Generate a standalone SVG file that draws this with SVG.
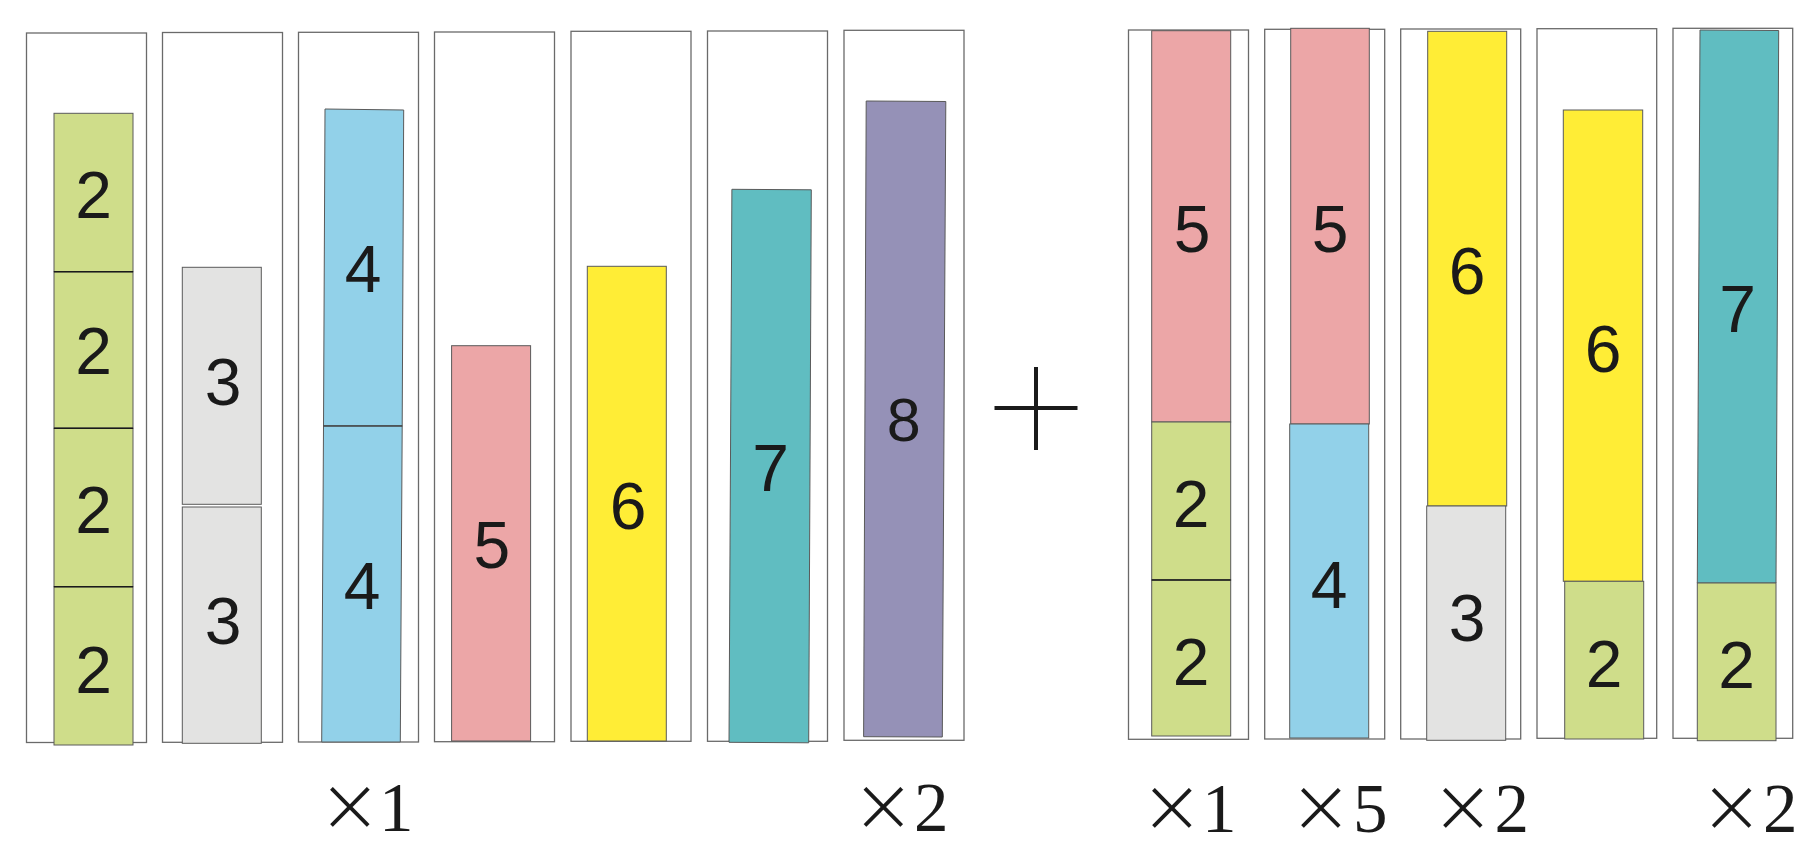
<svg xmlns="http://www.w3.org/2000/svg" width="1820" height="847" viewBox="0 0 1820 847">
<style>
.box{fill:#fff;stroke:#6a6a6a;stroke-width:1.3}
.bar{stroke:#5a5a5a;stroke-width:1}
.g{fill:#cfdd8a}.gr{fill:#e3e3e2}.b{fill:#92d1e9}.p{fill:#eca6a7}.y{fill:#ffed36}.t{fill:#60bdc1}.v{fill:#9591b7}
.div{stroke:#1a1a1a;stroke-width:1.6}
.n{font-family:"Liberation Sans",Arial,sans-serif;font-size:66px;fill:#1a1a1a;text-anchor:middle}
.m{font-family:"Liberation Serif","Times New Roman",serif;font-size:69px;fill:#1a1a1a}
.xs{font-family:"DejaVu Sans",sans-serif;font-size:76px;stroke:#fff;stroke-width:2.4}
.plus{stroke:#1a1a1a;stroke-width:4;fill:none}
</style>
<rect width="1820" height="847" fill="#fff"/>

<g id="c1">
<rect class="box" x="26.5" y="33" width="120" height="709.5"/>
<rect class="bar g" x="54" y="113.3" width="79" height="158.4"/>
<rect class="bar g" x="54" y="271.7" width="79" height="156.6"/>
<rect class="bar g" x="54" y="428.3" width="79" height="158.4"/>
<rect class="bar g" x="54" y="586.7" width="79" height="158.3"/>
<line class="div" x1="54" y1="271.7" x2="133" y2="271.7"/>
<line class="div" x1="54" y1="428.3" x2="133" y2="428.3"/>
<line class="div" x1="54" y1="586.7" x2="133" y2="586.7"/>
<text class="n" x="93.5" y="218">2</text>
<text class="n" x="93.5" y="374">2</text>
<text class="n" x="93.5" y="533">2</text>
<text class="n" x="93.5" y="693">2</text>
</g>

<g id="c2">
<rect class="box" x="162.5" y="32.5" width="120" height="709.8"/>
<rect class="bar gr" x="182.3" y="267.3" width="79" height="237"/>
<rect class="bar gr" x="182.3" y="507" width="79" height="236.3"/>
<text class="n" x="223" y="405">3</text>
<text class="n" x="223" y="643.5">3</text>
</g>

<g id="c3">
<rect class="box" x="298.5" y="32.3" width="120" height="709.7"/>
<polygon class="bar b" points="325,109 403.7,110 402.2,426 323.5,426"/>
<polygon class="bar b" points="323.5,426 402.2,426 400.3,742 321.7,742"/>
<line class="div" x1="323.5" y1="426" x2="402.2" y2="426" style="stroke:#333;stroke-width:1.2"/>
<text class="n" x="363" y="292">4</text>
<text class="n" x="362" y="608.5">4</text>
</g>

<g id="c4">
<rect class="box" x="434.5" y="32" width="120" height="709.7"/>
<rect class="bar p" x="451.6" y="345.7" width="79" height="395.3"/>
<text class="n" x="491.8" y="567.5">5</text>
</g>

<g id="c5">
<rect class="box" x="571" y="31.3" width="120" height="710"/>
<rect class="bar y" x="587.3" y="266.3" width="79" height="474.7"/>
<text class="n" x="628.2" y="529">6</text>
</g>

<g id="c6">
<rect class="box" x="707.5" y="31" width="120" height="710.3"/>
<polygon class="bar t" points="731.9,189.3 811.3,189.8 808.7,742.8 729,742.3"/>
<text class="n" x="770.5" y="490.5">7</text>
</g>

<g id="c7">
<rect class="box" x="844" y="30.3" width="120" height="710"/>
<polygon class="bar v" points="866.2,101 945.8,101.5 942.3,737 863.6,736.7"/>
<text class="n" x="903.8" y="441" style="font-size:61px">8</text>
</g>

<g id="plus">
<line class="plus" x1="994.5" y1="408" x2="1077.5" y2="408"/>
<line class="plus" x1="1036" y1="367" x2="1036" y2="450"/>
</g>

<g id="r1">
<rect class="box" x="1128.5" y="30" width="120" height="709.3"/>
<rect class="bar p" x="1151.7" y="30.7" width="79" height="391.3"/>
<rect class="bar g" x="1151.7" y="422" width="79" height="158"/>
<rect class="bar g" x="1151.7" y="580" width="79" height="156"/>
<line class="div" x1="1151.7" y1="580" x2="1230.7" y2="580"/>
<text class="n" x="1192" y="252">5</text>
<text class="n" x="1191" y="527">2</text>
<text class="n" x="1191" y="685">2</text>
</g>

<g id="r2">
<rect class="box" x="1264.7" y="29.3" width="120" height="709.7"/>
<rect class="bar p" x="1290.7" y="28.3" width="78.6" height="395.7"/>
<rect class="bar b" x="1289.7" y="424" width="79" height="314"/>
<text class="n" x="1330" y="251.5">5</text>
<text class="n" x="1329" y="608">4</text>
</g>

<g id="r3">
<rect class="box" x="1400.7" y="29" width="120" height="710"/>
<rect class="bar y" x="1427.7" y="31.3" width="79" height="474.7"/>
<rect class="bar gr" x="1426.7" y="506" width="79" height="234.3"/>
<text class="n" x="1467" y="294">6</text>
<text class="n" x="1467" y="640.5">3</text>
</g>

<g id="r4">
<rect class="box" x="1537" y="28.7" width="119.7" height="709.6"/>
<rect class="bar y" x="1563.3" y="110" width="79.4" height="471.3"/>
<rect class="bar g" x="1564.7" y="581.3" width="79" height="157.7"/>
<text class="n" x="1603" y="372">6</text>
<text class="n" x="1604" y="686.5">2</text>
</g>

<g id="r5">
<rect class="box" x="1673" y="28.3" width="119.7" height="710"/>
<polygon class="bar t" points="1700,30 1778.7,30.5 1776,583 1697.3,583"/>
<rect class="bar g" x="1697.3" y="583" width="78.7" height="157.7"/>
<text class="n" x="1737.5" y="332">7</text>
<text class="n" x="1736.5" y="688">2</text>
</g>

<g id="labels">
<text class="m" y="831"><tspan class="xs" x="318">×</tspan><tspan x="379">1</tspan></text>
<text class="m" y="831"><tspan class="xs" x="851.5">×</tspan><tspan x="914">2</tspan></text>
<text class="m" y="832"><tspan class="xs" x="1140">×</tspan><tspan x="1202">1</tspan></text>
<text class="m" y="832"><tspan class="xs" x="1289">×</tspan><tspan x="1353">5</tspan></text>
<text class="m" y="832"><tspan class="xs" x="1431">×</tspan><tspan x="1494.5">2</tspan></text>
<text class="m" y="832"><tspan class="xs" x="1699.7">×</tspan><tspan x="1763">2</tspan></text>
</g>
</svg>
